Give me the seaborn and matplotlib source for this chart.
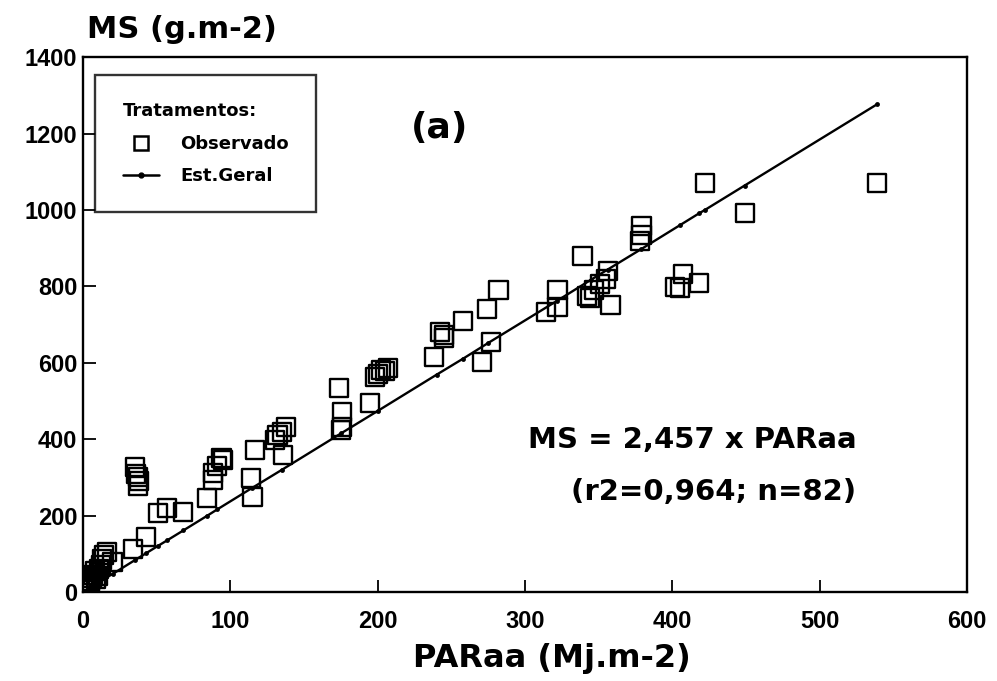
# Recreation of scanned chart: MS vs PARaa (a)
import numpy as np
import pandas as pd
import matplotlib
matplotlib.use('Agg')
import matplotlib.pyplot as plt
import seaborn as sns
from matplotlib.lines import Line2D

# Observed points (PARaa, MS)
obs_x = [0, 1, 2, 3, 4, 5, 6, 7, 8, 9, 10, 11, 12, 13, 14, 16, 20, 3, 5,
         34, 43, 51, 57, 68, 84,
         35, 36, 37, 38, 37,
         88, 88, 91, 94, 95,
         115, 114, 117,
         136, 130, 132, 135, 138,
         174, 176, 175, 176,
         195, 198, 200, 202, 207, 205,
         238, 242, 245, 258, 271, 277, 274, 282, 245,
         314, 322, 322,
         339, 342, 344, 347, 351, 355, 356, 358,
         379, 379, 378,
         402, 405, 407, 418, 422, 449, 539]
obs_y = [5, 10, 15, 20, 25, 30, 38, 45, 55, 35, 42, 60, 70, 85, 97, 105, 79, 8, 18,
         112, 143, 207, 220, 209, 247,
         327, 310, 300, 290, 278,
         293, 311, 330, 350, 345,
         249, 298, 372,
         358, 398, 412, 420, 432,
         534, 472, 424, 432,
         495, 563, 570, 581, 586, 578,
         615, 680, 665, 710, 602, 654, 741, 790, 672,
         733, 746, 790,
         880, 775, 770, 790, 806, 820, 840, 752,
         958, 935, 920,
         798, 795, 832, 808, 1070, 992, 1070]

# Estimated line (Est.Geral) nodes
est_x = [0, 5, 10, 15, 20, 35, 43, 51, 57, 68, 84, 91, 115, 135, 175, 200,
         240, 258, 275, 322, 345, 356, 379, 405, 418, 422, 449, 539]
est_y = [0, 12, 24, 36, 47, 83, 102, 121, 135, 161, 199, 216, 273, 320, 415, 474,
         569, 611, 652, 763, 818, 844, 898, 960, 991, 1000, 1064, 1277]

x_ticks = [0, 100, 200, 300, 400, 500, 600]
y_ticks = [0, 200, 400, 600, 800, 1000, 1200, 1400]

obs = pd.DataFrame({'PARaa': obs_x, 'MS': obs_y})
est = pd.DataFrame({'PARaa': est_x, 'MS': est_y})

sns.set_style('ticks')
plt.rcParams['font.family'] = ['Liberation Sans', 'DejaVu Sans']
plt.rcParams['font.weight'] = 'bold'
plt.rcParams['text.color'] = 'black'
plt.rcParams['xtick.color'] = 'black'
plt.rcParams['ytick.color'] = 'black'
plt.rcParams['axes.labelcolor'] = 'black'

big = ['DejaVu Sans']

fig = plt.figure(figsize=(9.97, 6.81), dpi=100)
ax = fig.add_axes([0.0833, 0.1307, 0.8867, 0.7853])

sns.lineplot(data=est, x='PARaa', y='MS', ax=ax, color='black', linewidth=1.7,
             marker='o', markersize=3.5, markeredgewidth=0, sort=False)
sns.scatterplot(data=obs, x='PARaa', y='MS', ax=ax, marker='s', s=170,
                facecolor='none', edgecolor='black', linewidth=1.7, zorder=3)

ax.set_xlim(0, 600)
ax.set_ylim(0, 1400)
ax.set_xticks(x_ticks)
ax.set_yticks(y_ticks)
ax.tick_params(direction='in', length=9, width=1.3, labelsize=17, top=False, right=False)
ax.tick_params(axis='x', pad=13)
ax.tick_params(axis='y', pad=4)
for lab in ax.get_xticklabels() + ax.get_yticklabels():
    lab.set_fontweight('bold')
for sp in ax.spines.values():
    sp.set_linewidth(1.7)
    sp.set_color('black')

ax.set_xlabel('PARaa (Mj.m-2)', fontsize=23, fontweight='bold', family=big, labelpad=4)
ax.xaxis.set_label_coords(0.53, -0.095)
ax.set_ylabel('')
fig.text(0.087, 1 - 30 / 681, 'MS (g.m-2)', fontsize=22, fontweight='bold',
         family=big, ha='left', va='center')

ax.text(242, 1215, '(a)', fontsize=26, fontweight='bold', family=big,
        ha='center', va='center')
ax.text(525, 398, 'MS = 2,457 x PARaa', fontsize=21, fontweight='bold', family=big,
        ha='right', va='center')
ax.text(525, 262, '(r2=0,964; n=82)', fontsize=21, fontweight='bold', family=big,
        ha='right', va='center')

handles = [Line2D([], [], marker='s', linestyle='none', markerfacecolor='none',
                  markeredgecolor='black', markersize=10, markeredgewidth=1.8),
           Line2D([], [], color='black', linewidth=1.8, marker='o', markersize=3.5)]
leg = ax.legend(handles, ['Observado', 'Est.Geral'], title='Tratamentos:',
                loc='upper left', bbox_to_anchor=(0.014, 0.966), frameon=True,
                fancybox=False, edgecolor='black',
                prop={'family': big, 'weight': 'bold', 'size': 13},
                title_fontproperties={'family': big, 'weight': 'bold', 'size': 13},
                borderpad=1.5, labelspacing=0.8, handlelength=2.0, handletextpad=1.2,
                alignment='left', borderaxespad=0)
leg.get_frame().set_linewidth(1.7)

fig.savefig('out.png', dpi=100)
